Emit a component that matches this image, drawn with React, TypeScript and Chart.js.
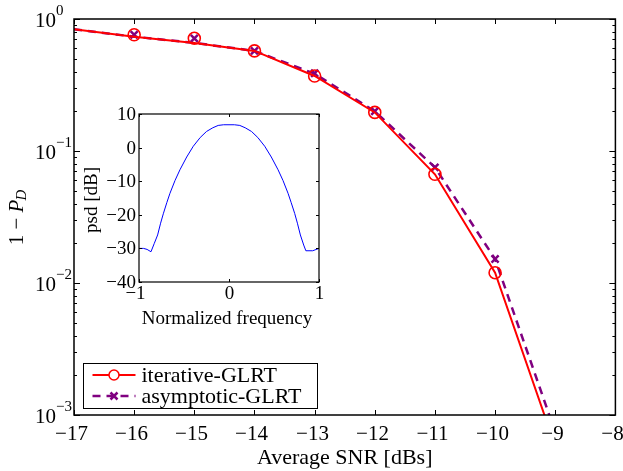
import React, { useEffect, useRef } from "react";
import { Chart, registerables } from "chart.js";

Chart.register(...registerables);

// ---------- main chart data ----------
const snrLine = [-17, -16, -15, -14, -13, -12, -11, -10, -9];
const iterLine = [0.835, 0.735, 0.659, 0.573, 0.37, 0.196, 0.0666, 0.01197, 0.00058];
const asymLine = [0.835, 0.735, 0.659, 0.573, 0.385, 0.2, 0.0752, 0.0152, 0.00074];
const snrMarkers = [-16, -15, -14, -13, -12, -11, -10];
const iterMarkers = [0.76, 0.714, 0.573, 0.37, 0.196, 0.0666, 0.01197];
const asymMarkers = [0.76, 0.714, 0.573, 0.388, 0.2, 0.0752, 0.0152];
const xTicks = [-17, -16, -15, -14, -13, -12, -11, -10, -9, -8];
const yDecades = [0, -1, -2, -3];
const legendLabels = ["iterative-GLRT", "asymptotic-GLRT"];

// ---------- inset data ----------
const freq = [-1, -0.95, -0.91, -0.867, -0.83, -0.793, -0.76, -0.73, -0.69, -0.656, -0.6, -0.545, -0.47, -0.397, -0.32, -0.25, -0.18, -0.12, -0.06, 0,
  0.06, 0.12, 0.18, 0.25, 0.32, 0.397, 0.47, 0.545, 0.6, 0.656, 0.69, 0.73, 0.76, 0.793, 0.83, 0.854, 0.93, 1];
const psd = [-30, -30, -30.3, -31, -28.5, -26, -22.5, -19.7, -16.3, -13.6, -9.8, -6.6, -2.8, 0.4, 3.0, 4.8, 5.9, 6.6, 6.8, 6.8,
  6.8, 6.6, 5.9, 4.8, 3.0, 0.4, -2.8, -6.6, -9.8, -13.6, -16.3, -19.6, -22.5, -26, -29, -30.7, -30.7, -30];
const insetXTicks = [-1, 0, 1];
const insetYTicks = [10, 0, -10, -20, -30, -40];

const RED = "#ff0000";
const PURPLE = "#800080";
const FONT = '"Liberation Serif", "Times New Roman", serif';

const fmt = (v: number) => (v < 0 ? "\u2212" + Math.abs(v) : String(v));

const mainPlugin = {
  id: "mainDecor",
  afterDraw(chart: any) {
    const ctx = chart.ctx;
    const { left, right, top, bottom } = chart.chartArea;
    const xs = chart.scales.x;
    const ys = chart.scales.y;
    ctx.save();
    ctx.strokeStyle = "#000";
    ctx.fillStyle = "#000";
    ctx.lineWidth = 1.5;
    ctx.strokeRect(left, top, right - left, bottom - top);
    ctx.lineWidth = 1;
    // x ticks
    ctx.font = `21px ${FONT}`;
    ctx.textAlign = "center";
    ctx.textBaseline = "middle";
    xTicks.forEach((v) => {
      const px = Math.round(xs.getPixelForValue(v)) + 0.5;
      ctx.beginPath();
      ctx.moveTo(px, bottom);
      ctx.lineTo(px, bottom - 5);
      ctx.moveTo(px, top);
      ctx.lineTo(px, top + 5);
      ctx.stroke();
      ctx.fillText(fmt(v), px - 3, bottom + 19);
    });
    // y ticks
    yDecades.forEach((d) => {
      const py = Math.round(ys.getPixelForValue(Math.pow(10, d))) + 0.5;
      ctx.beginPath();
      ctx.moveTo(left, py);
      ctx.lineTo(left + 6, py);
      ctx.moveTo(right, py);
      ctx.lineTo(right - 6, py);
      ctx.stroke();
      if (d > -3) {
        for (let m = 2; m <= 9; m++) {
          const pm = Math.round(ys.getPixelForValue(m * Math.pow(10, d - 1))) + 0.5;
          ctx.beginPath();
          ctx.moveTo(left, pm);
          ctx.lineTo(left + 3, pm);
          ctx.moveTo(right, pm);
          ctx.lineTo(right - 3, pm);
          ctx.stroke();
        }
      }
      ctx.font = `21px ${FONT}`;
      ctx.textAlign = "left";
      ctx.textBaseline = "middle";
      ctx.fillText("10", 35, py + 2);
      ctx.font = `15px ${FONT}`;
      ctx.fillText(d === 0 ? "0" : "\u2212" + Math.abs(d), 56, py - 8);
    });
    // x title
    ctx.font = `22px ${FONT}`;
    ctx.textAlign = "center";
    ctx.textBaseline = "middle";
    ctx.fillText("Average SNR [dBs]", (left + right) / 2, bottom + 43);
    // y title
    ctx.save();
    ctx.translate(17, 217);
    ctx.rotate(-Math.PI / 2);
    ctx.textBaseline = "middle";
    ctx.textAlign = "left";
    ctx.font = `21px ${FONT}`;
    const p1 = "1 \u2212 ";
    const w1 = ctx.measureText(p1).width;
    ctx.font = `italic 21px ${FONT}`;
    const w2 = ctx.measureText("P").width;
    ctx.font = `italic 15px ${FONT}`;
    const w3 = ctx.measureText("D").width;
    const total = w1 + w2 + w3;
    const x0 = -total / 2;
    ctx.font = `21px ${FONT}`;
    ctx.fillText(p1, x0, 0);
    ctx.font = `italic 21px ${FONT}`;
    ctx.fillText("P", x0 + w1, 0);
    ctx.font = `italic 15px ${FONT}`;
    ctx.fillText("D", x0 + w1 + w2 - 1, 5);
    ctx.restore();

    // legend
    const lx = left + 9.5;
    const ly = bottom - 51.5;
    const lw = 234;
    const lh = 45;
    ctx.fillStyle = "#fff";
    ctx.fillRect(lx, ly, lw, lh);
    ctx.strokeStyle = "#000";
    ctx.lineWidth = 1;
    ctx.strokeRect(lx, ly, lw, lh);
    const rows = [ly + 11.5, ly + 32.5];
    // row 1
    ctx.strokeStyle = RED;
    ctx.lineWidth = 2;
    ctx.beginPath();
    ctx.moveTo(lx + 9, rows[0]);
    ctx.lineTo(lx + 52, rows[0]);
    ctx.stroke();
    ctx.fillStyle = "#fff";
    ctx.lineWidth = 1.5;
    ctx.beginPath();
    ctx.arc(lx + 30.5, rows[0], 5, 0, Math.PI * 2);
    ctx.fill();
    ctx.stroke();
    // row 2
    ctx.strokeStyle = PURPLE;
    ctx.lineWidth = 2.5;
    ctx.setLineDash([8, 6]);
    ctx.beginPath();
    ctx.moveTo(lx + 9, rows[1]);
    ctx.lineTo(lx + 52, rows[1]);
    ctx.stroke();
    ctx.setLineDash([]);
    const cx = lx + 30.5;
    const s = 3.5;
    ctx.beginPath();
    ctx.moveTo(cx - s, rows[1] - s);
    ctx.lineTo(cx + s, rows[1] + s);
    ctx.moveTo(cx + s, rows[1] - s);
    ctx.lineTo(cx - s, rows[1] + s);
    ctx.stroke();
    ctx.fillStyle = "#000";
    ctx.font = `22px ${FONT}`;
    ctx.textAlign = "left";
    ctx.textBaseline = "middle";
    ctx.fillText(legendLabels[0], lx + 58, rows[0] + 1);
    ctx.fillText(legendLabels[1], lx + 58, rows[1] + 1);
    ctx.restore();
  },
};

const insetPlugin = {
  id: "insetDecor",
  beforeDraw(chart: any) {
    const ctx = chart.ctx;
    const { left, right, top, bottom } = chart.chartArea;
    ctx.save();
    ctx.fillStyle = "#fff";
    ctx.fillRect(left, top, right - left, bottom - top);
    ctx.restore();
  },
  afterDraw(chart: any) {
    const ctx = chart.ctx;
    const { left, right, top, bottom } = chart.chartArea;
    const xs = chart.scales.x;
    const ys = chart.scales.y;
    ctx.save();
    ctx.strokeStyle = "#000";
    ctx.fillStyle = "#000";
    ctx.lineWidth = 1.2;
    ctx.strokeRect(left, top, right - left, bottom - top);
    ctx.lineWidth = 1;
    ctx.font = `19px ${FONT}`;
    ctx.textAlign = "center";
    ctx.textBaseline = "middle";
    insetXTicks.forEach((v) => {
      const px = Math.round(xs.getPixelForValue(v)) + 0.5;
      ctx.beginPath();
      ctx.moveTo(px, bottom);
      ctx.lineTo(px, bottom - 3);
      ctx.moveTo(px, top);
      ctx.lineTo(px, top + 3);
      ctx.stroke();
      ctx.fillText(fmt(v), px - (v < 0 ? 4 : 0), bottom + 12);
    });
    ctx.textAlign = "right";
    insetYTicks.forEach((v) => {
      const py = Math.round(ys.getPixelForValue(v)) + 0.5;
      ctx.beginPath();
      ctx.moveTo(left, py);
      ctx.lineTo(left + 3, py);
      ctx.moveTo(right, py);
      ctx.lineTo(right - 3, py);
      ctx.stroke();
      ctx.fillText(fmt(v), left - 3, py + 1);
    });
    ctx.textAlign = "center";
    ctx.fillText("Normalized frequency", (left + right) / 2 - 2, bottom + 37);
    ctx.save();
    ctx.translate(left - 47, (top + bottom) / 2 + 2);
    ctx.rotate(-Math.PI / 2);
    ctx.fillText("psd [dB]", 0, 0);
    ctx.restore();
    ctx.restore();
  },
};

export default function App() {
  const mainRef = useRef<HTMLCanvasElement>(null);
  const insetRef = useRef<HTMLCanvasElement>(null);

  useEffect(() => {
    const toPts = (xs: number[], ys: number[]) => xs.map((x, i) => ({ x, y: ys[i] }));
    const main = new Chart(mainRef.current as HTMLCanvasElement, {
      type: "line",
      data: {
        datasets: [
          {
            label: "iterative-GLRT markers",
            data: toPts(snrMarkers, iterMarkers),
            showLine: false,
            pointStyle: "circle",
            pointRadius: 6,
            pointBorderWidth: 1.6,
            pointBorderColor: RED,
            pointBackgroundColor: "rgba(0,0,0,0)",
            borderColor: RED,
          },
          {
            label: "iterative-GLRT",
            data: toPts(snrLine, iterLine),
            borderColor: RED,
            borderWidth: 2,
            pointRadius: 0,
            fill: false,
          },
          {
            label: "asymptotic-GLRT markers",
            data: toPts(snrMarkers, asymMarkers),
            showLine: false,
            pointStyle: "crossRot",
            pointRadius: 5,
            pointBorderWidth: 2.5,
            pointBorderColor: PURPLE,
            borderColor: PURPLE,
          },
          {
            label: "asymptotic-GLRT",
            data: toPts(snrLine, asymLine),
            borderColor: PURPLE,
            borderWidth: 2.5,
            borderDash: [8, 6],
            pointRadius: 0,
            fill: false,
          },
        ],
      },
      options: {
        animation: false,
        responsive: false,
        maintainAspectRatio: false,
        layout: { padding: { left: 74, right: 6, top: 19, bottom: 56 } },
        plugins: { legend: { display: false }, tooltip: { enabled: false } },
        scales: {
          x: { type: "linear", min: -17, max: -8, display: false },
          y: { type: "logarithmic", min: 0.001, max: 1, display: false },
        },
      },
      plugins: [mainPlugin],
    });

    const inset = new Chart(insetRef.current as HTMLCanvasElement, {
      type: "line",
      data: {
        datasets: [
          {
            label: "psd",
            data: toPts(freq, psd),
            borderColor: "#0000ff",
            borderWidth: 1,
            pointRadius: 0,
            fill: false,
          },
        ],
      },
      options: {
        animation: false,
        responsive: false,
        maintainAspectRatio: false,
        layout: { padding: { left: 59, right: 11, top: 18, bottom: 54 } },
        plugins: { legend: { display: false }, tooltip: { enabled: false } },
        scales: {
          x: { type: "linear", min: -1, max: 1, display: false },
          y: { type: "linear", min: -40, max: 10, display: false },
        },
      },
      plugins: [insetPlugin],
    });

    return () => {
      main.destroy();
      inset.destroy();
    };
  }, []);

  return (
    <div style={{ position: "absolute", left: 0, top: 0, width: 623, height: 471, background: "#fff" }}>
      <canvas ref={mainRef} width={623} height={471} style={{ position: "absolute", left: 0, top: 0 }} />
      <canvas ref={insetRef} width={250} height={240} style={{ position: "absolute", left: 80, top: 96 }} />
    </div>
  );
}
